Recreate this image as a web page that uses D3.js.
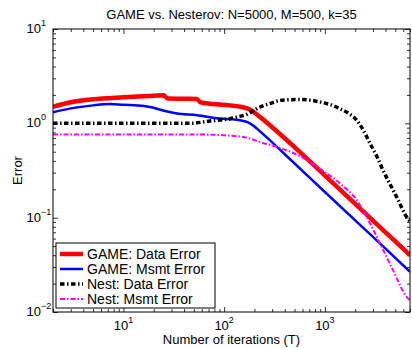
<!DOCTYPE html>
<html>
<head>
<meta charset="utf-8">
<script src="https://cdn.jsdelivr.net/npm/d3@7"></script>
<style>
  body { margin: 0; background: #fff; }
  text { font-family: "Liberation Sans", Arial, Helvetica, sans-serif; }
</style>
</head>
<body>
<div id="chart"></div>
<script>
// iterations (T) and error values
var gameDataT = [2, 3, 5, 10, 20, 25, 27.7, 40, 53.8, 57.5, 77.6, 114.5, 150, 180, 220, 300, 500, 1000, 2000, 4000, 7000];
var gameDataV = [1.5, 1.67, 1.8, 1.89, 1.96, 1.98, 1.83, 1.82, 1.81, 1.68, 1.6, 1.55, 1.49, 1.4, 1.2, 0.91, 0.56, 0.28, 0.14, 0.07, 0.04];

var gameMsmtT = [2, 3, 5, 7.4, 10, 14, 18.4, 25.9, 34, 53.8, 85, 134, 180, 250, 400, 1000, 2000, 4000, 7000];
var gameMsmtV = [1.31, 1.44, 1.55, 1.6, 1.57, 1.55, 1.49, 1.35, 1.27, 1.22, 1.13, 1.09, 1.0, 0.75, 0.47, 0.187, 0.0935, 0.047, 0.0267];

var nestDataT = [2, 46, 72.5, 114.5, 128, 169, 227, 290, 359, 450, 568, 720, 896, 1150, 1416, 1750, 2075, 2400, 2812, 3300, 3785, 4400, 5175, 6505, 7000];
var nestDataV = [1.0, 1.0, 1.06, 1.12, 1.15, 1.25, 1.49, 1.63, 1.75, 1.78, 1.79, 1.76, 1.68, 1.57, 1.43, 1.26, 1.08, 0.85, 0.61, 0.44, 0.317, 0.23, 0.165, 0.101, 0.092];

var nestMsmtT = [2, 57.7, 134, 180, 227, 359, 608, 896, 1416, 2075, 2607, 3534, 4757, 6505, 7000];
var nestMsmtV = [0.76, 0.76, 0.73, 0.69, 0.633, 0.55, 0.43, 0.33, 0.23, 0.153, 0.101, 0.053, 0.0276, 0.0144, 0.0133];

var seriesNames = ["GAME: Data Error", "GAME: Msmt Error", "Nest: Data Error", "Nest: Msmt Error"];
var xTickExp = [1, 2, 3];
var yTickExp = [-2, -1, 0, 1];

var margin = {top: 29, right: 2, bottom: 36, left: 53},
    width = 412 - margin.left - margin.right,
    height = 348 - margin.top - margin.bottom;

var svg = d3.select("#chart")
  .append("svg")
  .attr("width", 412)
  .attr("height", 348)
  .append("g")
  .attr("transform", "translate(" + margin.left + "," + margin.top + ")");

var x = d3.scaleLog().domain([2, 7000]).range([0, width]);
var y = d3.scaleLog().domain([0.01, 10]).range([height, 0]);

// minor ticks for log axes
var xMinor = [], yMinor = [];
[1, 10, 100, 1000].forEach(function(p) {
  for (var k = 2; k <= 9; k++) if (p * k >= 2 && p * k <= 7000) xMinor.push(p * k);
});
[0.01, 0.1, 1].forEach(function(p) {
  for (var k = 2; k <= 9; k++) yMinor.push(p * k);
});
var xMajor = xTickExp.map(function(e) { return Math.pow(10, e); });
var yMajor = yTickExp.map(function(e) { return Math.pow(10, e); });

function drawTicks(axisFn, scale, vals, size, transform) {
  var g = svg.append("g")
    .attr("transform", transform)
    .call(axisFn(scale).tickValues(vals).tickSize(size).tickFormat(""));
  g.select(".domain").remove();
  g.selectAll(".tick line").attr("stroke", "#000").attr("stroke-width", 0.8);
}
drawTicks(d3.axisBottom, x, xMajor, -5, "translate(0," + height + ")");
drawTicks(d3.axisBottom, x, xMinor, -3, "translate(0," + height + ")");
drawTicks(d3.axisTop, x, xMajor, -5, "translate(0,0)");
drawTicks(d3.axisTop, x, xMinor, -3, "translate(0,0)");
drawTicks(d3.axisLeft, y, yMajor, -5, "translate(0,0)");
drawTicks(d3.axisLeft, y, yMinor, -3, "translate(0,0)");
drawTicks(d3.axisRight, y, yMajor, -5, "translate(" + width + ",0)");
drawTicks(d3.axisRight, y, yMinor, -3, "translate(" + width + ",0)");

// clip for the lines
svg.append("clipPath").attr("id", "clip")
  .append("rect").attr("width", width).attr("height", height);

var line = d3.line()
  .x(function(d) { return x(d[0]); })
  .y(function(d) { return y(d[1]); })
  .curve(d3.curveMonotoneX);

function zip(a, b) { return a.map(function(v, i) { return [v, b[i]]; }); }

var series = [
  {data: zip(gameDataT, gameDataV), color: "#ff0000", w: 4.5, dash: null},
  {data: zip(gameMsmtT, gameMsmtV), color: "#0000ff", w: 2.5, dash: null},
  {data: zip(nestDataT, nestDataV), color: "#000000", w: 3.5, dash: "4.5,2.5,1.5,2.5"},
  {data: zip(nestMsmtT, nestMsmtV), color: "#ff00ff", w: 2, dash: "5,2,1.5,2"}
];

var lines = svg.append("g").attr("clip-path", "url(#clip)");
series.forEach(function(s) {
  lines.append("path")
    .attr("d", line(s.data))
    .attr("fill", "none")
    .attr("stroke", s.color)
    .attr("stroke-width", s.w)
    .attr("stroke-dasharray", s.dash);
});

// box
svg.append("rect")
  .attr("width", width).attr("height", height)
  .attr("fill", "none").attr("stroke", "#000").attr("stroke-width", 1);

// tick labels like 10^k
xTickExp.forEach(function(e) {
  var t = svg.append("text")
    .attr("x", x(Math.pow(10, e)))
    .attr("y", height + 18)
    .attr("text-anchor", "middle")
    .attr("font-size", 13);
  t.append("tspan").text("10");
  t.append("tspan").attr("font-size", 9).attr("dy", -7).text(e);
});
yTickExp.forEach(function(e) {
  var yy = y(Math.pow(10, e)) + 4;
  svg.append("text")
    .attr("x", -12).attr("y", yy)
    .attr("text-anchor", "end")
    .attr("font-size", 13)
    .text("10");
  svg.append("text")
    .attr("x", -12).attr("y", yy - 7)
    .attr("font-size", 9)
    .text(e < 0 ? "\u2212" + (-e) : e);
});

// titles
svg.append("text")
  .attr("x", width / 2).attr("y", -10)
  .attr("text-anchor", "middle")
  .attr("font-size", 13)
  .text("GAME vs. Nesterov: N=5000, M=500, k=35");
svg.append("text")
  .attr("x", width / 2).attr("y", height + 32)
  .attr("text-anchor", "middle")
  .attr("font-size", 13)
  .text("Number of iterations (T)");
svg.append("text")
  .attr("transform", "translate(-31," + (height / 2) + ") rotate(-90)")
  .attr("text-anchor", "middle")
  .attr("font-size", 13)
  .text("Error");

// legend
var legend = svg.append("g").attr("transform", "translate(3," + (height - 69) + ")");
legend.append("rect")
  .attr("width", 159).attr("height", 65)
  .attr("fill", "#fff").attr("stroke", "#000").attr("stroke-width", 1);
series.forEach(function(s, i) {
  var ly = 11 + i * 15;
  legend.append("line")
    .attr("x1", 4).attr("x2", 27).attr("y1", ly).attr("y2", ly)
    .attr("stroke", s.color).attr("stroke-width", s.w)
    .attr("stroke-dasharray", s.dash);
  legend.append("text")
    .attr("x", 31).attr("y", ly + 5)
    .attr("font-size", 14)
    .text(seriesNames[i]);
});
</script>
</body>
</html>
